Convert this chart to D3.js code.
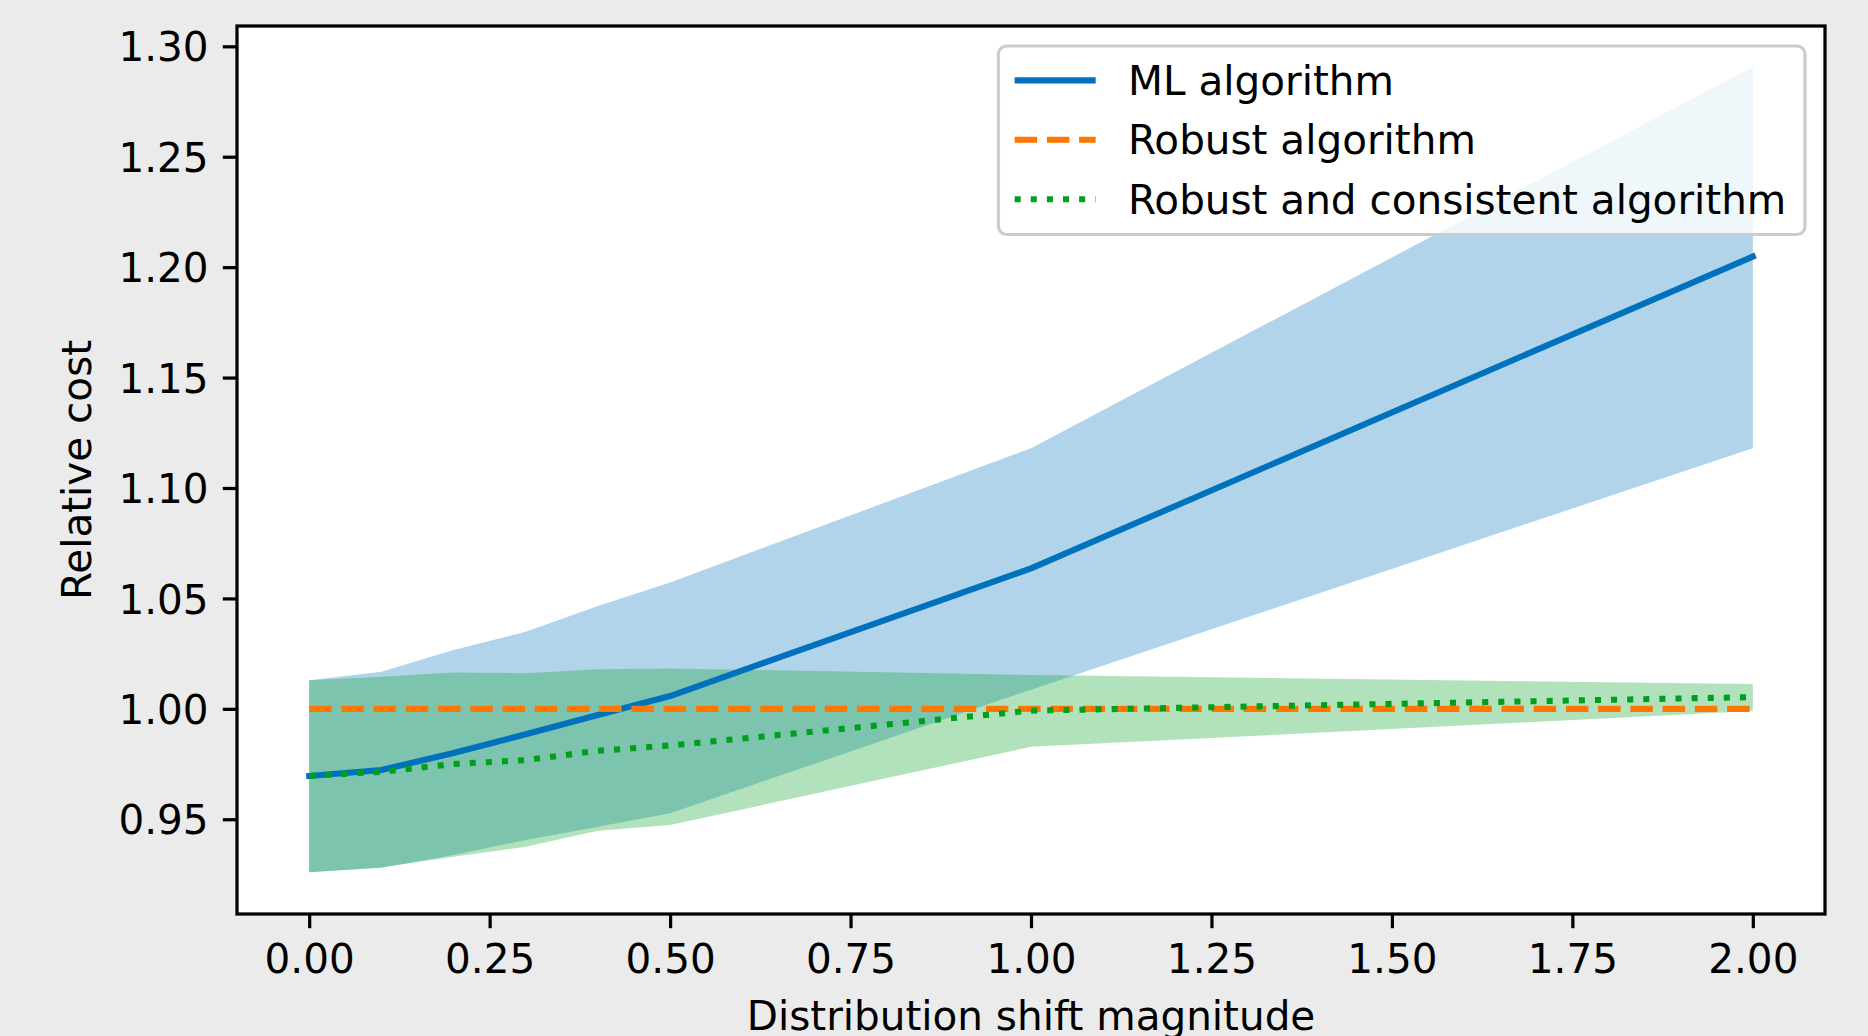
<!DOCTYPE html>
<html>
<head>
<meta charset="utf-8">
<script src="https://cdn.jsdelivr.net/npm/d3@7"></script>
<style>
  html, body { margin: 0; padding: 0; background: #ebebeb; }
  svg { display: block; font-family: "DejaVu Sans", sans-serif; }
</style>
</head>
<body>
<svg id="chart" width="1868" height="1036"></svg>
<script>
// values
const shift = [0, 0.1, 0.2, 0.3, 0.4, 0.5, 1.0, 2.0];
const mlMean = [0.9696, 0.9723, 0.980, 0.9885, 0.9972, 1.0058, 1.0636, 1.2048];
const mlLow = [0.926, 0.928, 0.9338, 0.9406, 0.9466, 0.9527, 1.0087, 1.118];
const mlHigh = [1.013, 1.0168, 1.0266, 1.0349, 1.0466, 1.0572, 1.118, 1.2908];
const robustMean = [1, 1, 1, 1, 1, 1, 1, 1];
const rcMean = [0.9696, 0.9715, 0.975, 0.9768, 0.981, 0.9834, 0.9992, 1.0053];
const rcLow = [0.926, 0.9282, 0.933, 0.9375, 0.9448, 0.9474, 0.9828, 0.999];
const rcHigh = [1.013, 1.0145, 1.0165, 1.0161, 1.0179, 1.0183, 1.0153, 1.0112];

const xTicks = [0, 0.25, 0.5, 0.75, 1.0, 1.25, 1.5, 1.75, 2.0];
const yTicks = [0.95, 1.00, 1.05, 1.10, 1.15, 1.20, 1.25, 1.30];
const seriesNames = ["ML algorithm", "Robust algorithm", "Robust and consistent algorithm"];

const blue = "#0072bd";
const orange = "#ff7700";
const green = "#00a01e";
const lw = 6.08;
const fontSize = 40.5;

const margin = {left: 237, right: 43, top: 26, bottom: 122};
const W = 1868, H = 1036;
const pw = W - margin.left - margin.right;
const ph = H - margin.top - margin.bottom;

const svg = d3.select("#chart");
svg.append("rect").attr("width", W).attr("height", H).attr("fill", "#ebebeb");

const g = svg.append("g").attr("transform", "translate(" + margin.left + "," + margin.top + ")");
g.append("rect").attr("width", pw).attr("height", ph).attr("fill", "#fff");

const x = d3.scaleLinear().domain([-0.1, 2.1]).range([0, pw]);
const y = d3.scaleLinear().domain([0.9071, 1.3092]).range([ph, 0]);

const idx = d3.range(shift.length);

function band(lo, hi) {
    return d3.area()
        .x(i => x(shift[i]))
        .y0(i => y(lo[i]))
        .y1(i => y(hi[i]))(idx);
}
function line(vals) {
    return d3.line()
        .x(i => x(shift[i]))
        .y(i => y(vals[i]))(idx);
}

// bands
g.append("path").attr("d", band(mlLow, mlHigh)).attr("fill", blue).attr("fill-opacity", 0.3);
g.append("path").attr("d", band(rcLow, rcHigh)).attr("fill", green).attr("fill-opacity", 0.3);

// lines
g.append("path").attr("d", line(mlMean))
    .attr("fill", "none").attr("stroke", blue).attr("stroke-width", lw)
    .attr("stroke-linejoin", "round").attr("stroke-linecap", "square");
g.append("path").attr("d", line(robustMean))
    .attr("fill", "none").attr("stroke", orange).attr("stroke-width", lw)
    .attr("stroke-dasharray", (3.7 * lw) + "," + (1.6 * lw));
g.append("path").attr("d", line(rcMean))
    .attr("fill", "none").attr("stroke", green).attr("stroke-width", lw)
    .attr("stroke-dasharray", (1 * lw) + "," + (1.65 * lw));

// axes
const fmt = d3.format(".2f");
const xAxis = g.append("g")
    .attr("transform", "translate(0," + ph + ")")
    .call(d3.axisBottom(x).tickValues(xTicks).tickFormat(fmt).tickSize(14.2).tickSizeOuter(0).tickPadding(14.2));
const yAxis = g.append("g")
    .call(d3.axisLeft(y).tickValues(yTicks).tickFormat(fmt).tickSize(14.2).tickSizeOuter(0).tickPadding(14.2));

[xAxis, yAxis].forEach(a => {
    a.select(".domain").remove();
    a.selectAll(".tick line").attr("stroke", "#000").attr("stroke-width", 3.24);
    a.selectAll(".tick text")
        .attr("fill", "#000")
        .style("font-size", fontSize + "px")
        .style("font-family", "DejaVu Sans");
});
xAxis.selectAll(".tick text").attr("dy", "0.76em");
yAxis.selectAll(".tick text").attr("dy", "0.36em");

// frame
g.append("rect").attr("width", pw).attr("height", ph)
    .attr("fill", "none").attr("stroke", "#000").attr("stroke-width", 3.24);

// axis labels
svg.append("text")
    .attr("x", margin.left + pw / 2).attr("y", 1030)
    .attr("text-anchor", "middle")
    .style("font-size", fontSize + "px")
    .text("Distribution shift magnitude");
svg.append("text")
    .attr("transform", "translate(91," + (margin.top + ph / 2) + ") rotate(-90)")
    .attr("text-anchor", "middle")
    .style("font-size", fontSize + "px")
    .text("Relative cost");

// legend
const leg = g.append("g");
const styles = [
    {color: blue, dash: null},
    {color: orange, dash: (3.7 * lw) + "," + (1.6 * lw)},
    {color: green, dash: (1 * lw) + "," + (1.65 * lw)}
];
const pad = 0.4 * fontSize, handleLen = 2 * fontSize, textPad = 0.8 * fontSize;
const rowGap = 59.4, firstRow = 34.4;

const items = leg.selectAll("g.item").data(seriesNames).enter().append("g").attr("class", "item");
items.append("text")
    .attr("x", pad + handleLen + textPad)
    .attr("y", (d, i) => firstRow + i * rowGap)
    .attr("dy", "0.36em")
    .style("font-size", fontSize + "px")
    .text(d => d);

let textW = 0;
items.select("text").each(function() { textW = Math.max(textW, this.getBBox().width); });
const boxW = pad + handleLen + textPad + textW + pad + 2.5;
const boxH = 188.5;
const boxX = pw - 20 - boxW, boxY = 20;

leg.attr("transform", "translate(" + boxX + "," + boxY + ")");
leg.insert("rect", ":first-child")
    .attr("width", boxW).attr("height", boxH).attr("rx", 8).attr("ry", 8)
    .attr("fill", "#fff").attr("fill-opacity", 0.8)
    .attr("stroke", "#cccccc").attr("stroke-width", 3.24);

items.append("line")
    .attr("x1", pad).attr("x2", pad + handleLen)
    .attr("y1", (d, i) => firstRow + i * rowGap)
    .attr("y2", (d, i) => firstRow + i * rowGap)
    .attr("stroke", (d, i) => styles[i].color)
    .attr("stroke-width", lw)
    .attr("stroke-dasharray", (d, i) => styles[i].dash);
</script>
</body>
</html>
